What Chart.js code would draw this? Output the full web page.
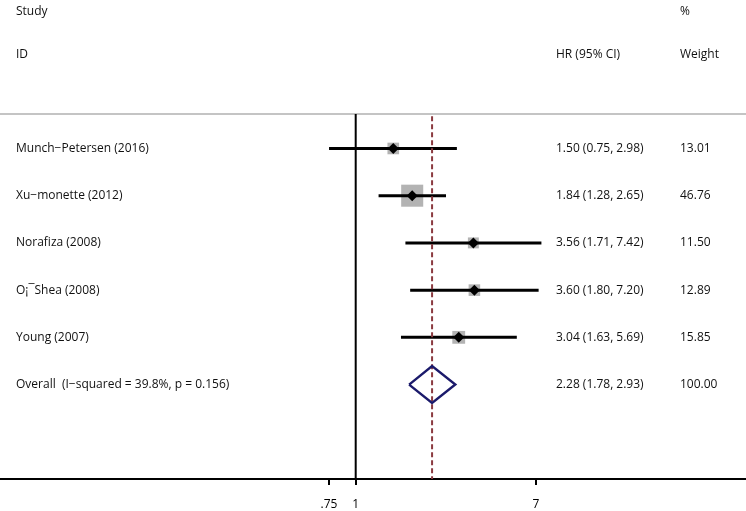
<!DOCTYPE html>
<html lang="en">
<head>
    <meta charset="UTF-8">
    <title>Forest plot - HR</title>
    <style>
        html, body { margin: 0; padding: 0; background: #fff; }
        #forest { display: block; }
    </style>
</head>
<body>
    <canvas id="forest" width="746" height="511"></canvas>
    <script src="https://cdn.jsdelivr.net/npm/chart.js"></script>
    <script>
    // Study data
    const studies = ['Munch\u2212Petersen (2016)', 'Xu\u2212monette (2012)', 'Norafiza (2008)', 'O\u00a1\u00afShea (2008)', 'Young (2007)'];
    const hr = [1.50, 1.84, 3.56, 3.60, 3.04];
    const lower = [0.75, 1.28, 1.71, 1.80, 1.63];
    const upper = [2.98, 2.65, 7.42, 7.20, 5.69];
    const weights = [13.01, 46.76, 11.50, 12.89, 15.85];

    // Pooled estimate
    const overallLabel = 'Overall  (I\u2212squared = 39.8%, p = 0.156)';
    const overallHR = 2.28;
    const overallLower = 1.78;
    const overallUpper = 2.93;
    const overallWeight = 100.00;

    // x axis
    const xTicks = [0.75, 1, 7];
    const xTickLabels = ['.75', '1', '7'];

    // layout of the log axis (full canvas width) and rows
    const X_MIN = 0.02152, X_MAX = 67.5;
    const Y_TOP = 0.27, Y_BOTTOM = 8;
    const FONT = '"Open Sans", "Noto Sans", sans-serif';
    const TEXT = '#111';

    const overallRow = studies.length + 1;
    const fmt = v => v.toFixed(2);

    // one line per confidence interval
    const ciSets = studies.map((s, i) => ({
        type: 'line',
        data: [{ x: lower[i], y: i + 1 }, { x: upper[i], y: i + 1 }],
        borderColor: '#000',
        borderWidth: 3,
        pointRadius: 0,
        order: 3
    }));

    const boxSet = {
        type: 'scatter',
        data: hr.map((v, i) => ({ x: v, y: i + 1 })),
        pointStyle: 'rect',
        pointRadius: weights.map(w => 2.28 * Math.sqrt(w)),
        backgroundColor: '#b3b3b3',
        borderWidth: 0,
        order: 5
    };

    const pointSet = {
        type: 'scatter',
        data: hr.map((v, i) => ({ x: v, y: i + 1 })),
        pointStyle: 'rectRot',
        pointRadius: 5.5,
        backgroundColor: '#000',
        borderWidth: 0,
        order: 1
    };

    const nullLine = {
        type: 'line',
        data: [{ x: 1, y: Y_TOP }, { x: 1, y: Y_BOTTOM }],
        borderColor: '#000',
        borderWidth: 2,
        pointRadius: 0,
        order: 4
    };

    const overallLine = {
        type: 'line',
        data: [{ x: overallHR, y: Y_TOP + 0.05 }, { x: overallHR, y: Y_BOTTOM }],
        borderColor: '#8b3a40',
        borderWidth: 2,
        borderDash: [5, 3],
        pointRadius: 0,
        order: 2
    };

    const halfH = 0.39;
    const diamondSet = {
        type: 'line',
        data: [
            { x: overallLower, y: overallRow },
            { x: overallHR, y: overallRow - halfH },
            { x: overallUpper, y: overallRow },
            { x: overallHR, y: overallRow + halfH },
            { x: overallLower, y: overallRow }
        ],
        borderColor: '#1b1a6b',
        borderWidth: 2.4,
        pointRadius: 0,
        tension: 0,
        order: 1
    };

    // headers, row labels, estimates and weights
    const textPlugin = {
        id: 'forestText',
        beforeDatasetsDraw(chart) {
            const ctx = chart.ctx;
            const top = chart.chartArea.top;
            ctx.save();
            ctx.strokeStyle = '#c4c4c4';
            ctx.lineWidth = 2;
            ctx.beginPath();
            ctx.moveTo(0, top);
            ctx.lineTo(chart.width, top);
            ctx.stroke();
            ctx.restore();
        },
        afterDraw(chart) {
            const ctx = chart.ctx;
            const y = chart.scales.y;
            ctx.save();
            ctx.font = '12px ' + FONT;
            ctx.fillStyle = TEXT;
            ctx.textBaseline = 'middle';
            ctx.textAlign = 'left';

            ctx.fillText('Study', 16, 12);
            ctx.fillText('%', 680, 12);
            ctx.fillText('ID', 16, 55);
            ctx.fillText('HR (95% CI)', 556, 55);
            ctx.fillText('Weight', 680, 55);

            studies.forEach((s, i) => {
                const py = y.getPixelForValue(i + 1);
                ctx.fillText(s, 16, py);
                ctx.fillText(fmt(hr[i]) + ' (' + fmt(lower[i]) + ', ' + fmt(upper[i]) + ')', 556, py);
                ctx.fillText(fmt(weights[i]), 680, py);
            });
            const oy = y.getPixelForValue(overallRow);
            ctx.fillText(overallLabel, 16, oy);
            ctx.fillText(fmt(overallHR) + ' (' + fmt(overallLower) + ', ' + fmt(overallUpper) + ')', 556, oy);
            ctx.fillText(fmt(overallWeight), 680, oy);
            ctx.restore();
        }
    };

    new Chart(document.getElementById('forest'), {
        data: {
            datasets: [...ciSets, boxSet, pointSet, nullLine, overallLine, diamondSet]
        },
        options: {
            responsive: false,
            animation: false,
            layout: { autoPadding: false, padding: { top: 114, left: 0, right: 0, bottom: 0 } },
            plugins: {
                legend: { display: false },
                tooltip: { enabled: false },
                title: { display: false }
            },
            scales: {
                x: {
                    type: 'logarithmic',
                    min: X_MIN,
                    max: X_MAX,
                    afterBuildTicks(scale) {
                        scale.ticks = xTicks.map(v => ({ value: v }));
                    },
                    afterFit(scale) {
                        scale.height = 32;
                    },
                    ticks: {
                        autoSkip: false,
                        maxRotation: 0,
                        color: '#000',
                        padding: 12,
                        font: { size: 12, family: FONT },
                        callback: (v) => xTickLabels[xTicks.indexOf(v)]
                    },
                    grid: {
                        drawOnChartArea: false,
                        drawTicks: true,
                        tickLength: 6,
                        color: '#000',
                        lineWidth: 2
                    },
                    border: { display: true, color: '#000', width: 2 }
                },
                y: {
                    type: 'linear',
                    display: false,
                    reverse: true,
                    min: Y_TOP,
                    max: Y_BOTTOM
                }
            }
        },
        plugins: [textPlugin]
    });
    </script>
</body>
</html>
